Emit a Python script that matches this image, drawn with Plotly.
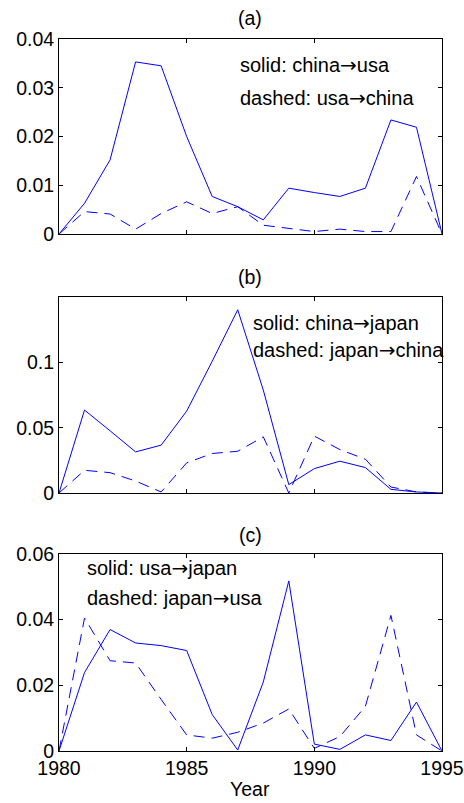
import plotly.graph_objects as go

years = list(range(1980, 1996))

a_solid = [0, 0.0063, 0.0152, 0.0353, 0.0345, 0.0200, 0.0077, 0.0056, 0.0029, 0.0094, 0.0085, 0.0077, 0.0094, 0.0234, 0.0219, 0]
a_dashed = [0, 0.0046, 0.0041, 0.0010, 0.0042, 0.0066, 0.0042, 0.0056, 0.0018, 0.0012, 0.0005, 0.0010, 0.0005, 0.0005, 0.0118, 0]

b_solid = [0, 0.0636, 0.0477, 0.0315, 0.0367, 0.0628, 0.1010, 0.1405, 0.0790, 0.0064, 0.0187, 0.0244, 0.0195, 0.0028, 0.0008, 0]
b_dashed = [0, 0.0174, 0.0156, 0.0092, 0.0008, 0.0231, 0.0303, 0.0320, 0.0431, 0.0, 0.0436, 0.0333, 0.0259, 0.0046, 0.0008, 0]

c_solid = [0, 0.0239, 0.0370, 0.0329, 0.0321, 0.0306, 0.0111, 0.0003, 0.0210, 0.0518, 0.0021, 0.0005, 0.0049, 0.0032, 0.0149, 0]
c_dashed = [0, 0.0405, 0.0275, 0.0268, 0.0157, 0.0049, 0.0039, 0.0057, 0.0085, 0.0128, 0.0008, 0.0044, 0.0136, 0.0413, 0.0049, 0]

panel_titles = ["(a)", "(b)", "(c)"]
legend_solid = [("solid: china", "usa"), ("solid: china", "japan"), ("solid: usa", "japan")]
legend_dashed = [("dashed: usa", "china"), ("dashed: japan", "china"), ("dashed: japan", "usa")]
y_ranges = [[0, 0.04], [0, 0.1503], [0, 0.06]]
y_ticks = [[0, 0.01, 0.02, 0.03, 0.04], [0, 0.05, 0.1], [0, 0.02, 0.04, 0.06]]
y_ticktext = [["0", "0.01", "0.02", "0.03", "0.04"], ["0", "0.05", "0.1"], ["0", "0.02", "0.04", "0.06"]]
x_ticks = [1980, 1985, 1990, 1995]

W, H = 464, 803
FONT = "Liberation Sans, Arial, sans-serif"
COLOR = "#0000ff"
ARROW = '<span style="font-family:DejaVu Sans">→</span>'

# pixel layout (page coordinates)
x_left, x_right = 59, 442
panels_px = [(39, 234), (297, 493), (554, 751)]
title_px = [18, 277, 535]
ann_pos = [
    (1987.01, 0.0347, 0.0279),
    (1987.51, 0.1305, 0.1100),
    (1981.02, 0.0557, 0.0465),
]

series = [(a_solid, a_dashed), (b_solid, b_dashed), (c_solid, c_dashed)]


def py(p):
    return 1 - p / H


fig = go.Figure()
annotations = []
layout = {}
for i, ((s, d), (top, bot)) in enumerate(zip(series, panels_px)):
    n = i + 1
    xa = "x" if n == 1 else f"x{n}"
    ya = "y" if n == 1 else f"y{n}"
    fig.add_trace(go.Scatter(x=years, y=s, mode="lines", xaxis=xa, yaxis=ya,
                             line=dict(color=COLOR, width=1), showlegend=False))
    fig.add_trace(go.Scatter(x=years, y=d, mode="lines", xaxis=xa, yaxis=ya,
                             line=dict(color=COLOR, width=1, dash="11px,7px"), showlegend=False))
    xkey = "xaxis" if n == 1 else f"xaxis{n}"
    ykey = "yaxis" if n == 1 else f"yaxis{n}"
    layout[xkey] = dict(
        domain=[x_left / W, x_right / W], range=[1980, 1995],
        anchor=ya, tickvals=x_ticks, showticklabels=(n == 3),
        ticks="inside", ticklen=4, tickcolor="black", showline=True,
        linecolor="black", linewidth=1, mirror="ticks", showgrid=False,
        zeroline=False, tickfont=dict(family=FONT, size=19.5, color="black"),
        automargin=False,
    )
    layout[ykey] = dict(
        domain=[py(bot), py(top)], range=y_ranges[i], anchor=xa,
        tickvals=y_ticks[i], ticktext=y_ticktext[i],
        ticks="inside", ticklen=4, tickcolor="black", showline=True,
        linecolor="black", linewidth=1, mirror="ticks", showgrid=False,
        zeroline=False, tickfont=dict(family=FONT, size=19.5, color="black"),
        automargin=False,
    )
    annotations.append(dict(text=panel_titles[i], x=(x_left + x_right) / 2 / W,
                            y=py(title_px[i]), xref="paper", yref="paper",
                            showarrow=False, xanchor="center", yanchor="middle",
                            font=dict(family=FONT, size=19.5, color="black")))
    ax, ys, yd = ann_pos[i]
    for (p1, p2), yy in ((legend_solid[i], ys), (legend_dashed[i], yd)):
        annotations.append(dict(text=p1 + ARROW + p2, x=ax, y=yy, xref=xa, yref=ya,
                                showarrow=False, xanchor="left", yanchor="middle",
                                font=dict(family=FONT, size=20, color="black")))

annotations.append(dict(text="Year", x=(x_left + x_right) / 2 / W, y=py(789),
                        xref="paper", yref="paper", showarrow=False,
                        xanchor="center", yanchor="middle",
                        font=dict(family=FONT, size=19.5, color="black")))

fig.update_layout(**layout)
fig.update_layout(
    width=W, height=H, margin=dict(l=0, r=0, t=0, b=0, autoexpand=False),
    paper_bgcolor="white", plot_bgcolor="white",
    annotations=annotations, font=dict(family=FONT, size=19, color="black"),
)
fig.write_html("out.html", config={"displayModeBar": False},
               post_script="document.body.style.margin='0';document.body.style.overflow='hidden';")
